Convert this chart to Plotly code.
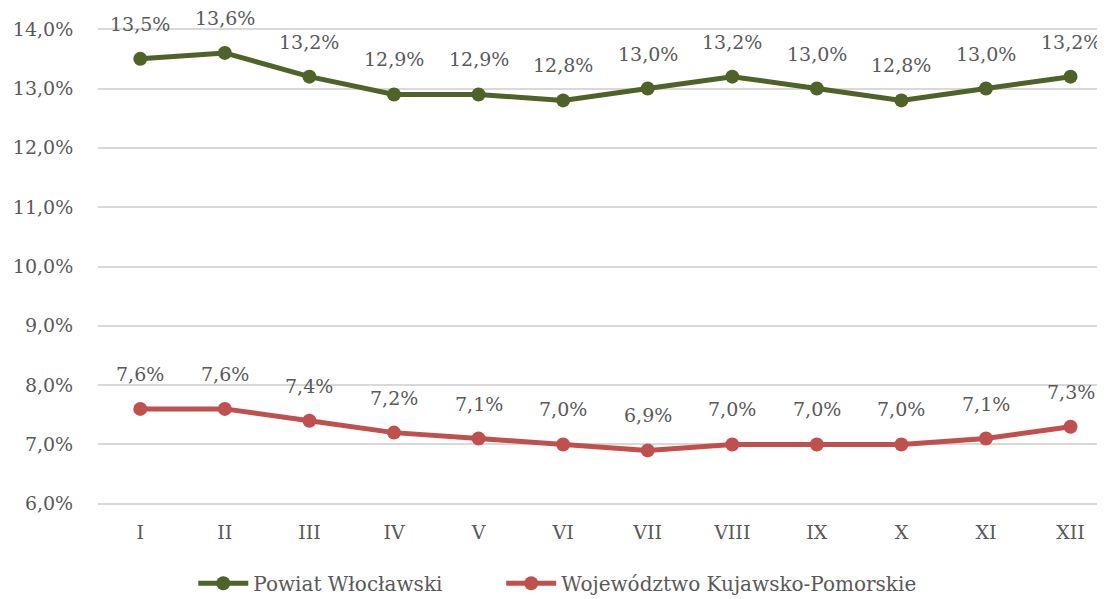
import plotly.graph_objects as go

months = ["I", "II", "III", "IV", "V", "VI", "VII", "VIII", "IX", "X", "XI", "XII"]
powiat = [13.5, 13.6, 13.2, 12.9, 12.9, 12.8, 13.0, 13.2, 13.0, 12.8, 13.0, 13.2]
wojewodztwo = [7.6, 7.6, 7.4, 7.2, 7.1, 7.0, 6.9, 7.0, 7.0, 7.0, 7.1, 7.3]

green = "#4f6228"
red = "#c0504d"
txt = "#595959"
font_family = "Georgia, 'DejaVu Serif', serif"

fig = go.Figure()
fig.add_trace(go.Scatter(x=months, y=powiat, name="Powiat Włocławski",
                         mode="lines+markers", legend="legend",
                         line=dict(color=green, width=5),
                         marker=dict(color=green, size=14)))
fig.add_trace(go.Scatter(x=months, y=wojewodztwo, name="Województwo Kujawsko-Pomorskie",
                         mode="lines+markers", legend="legend2",
                         line=dict(color=red, width=5),
                         marker=dict(color=red, size=14)))

# data labels above the points
annotations = []
for series in (powiat, wojewodztwo):
    for m, v in zip(months, series):
        annotations.append(dict(x=m, y=v, text=f"{v:.1f}%".replace(".", ","),
                                showarrow=False, yshift=35,
                                font=dict(size=19, color=txt, family=font_family)))

leg = dict(orientation="h", xanchor="left", y=-0.164, yanchor="middle",
           font=dict(size=20, color=txt), itemwidth=50)

# page body has an 8px margin, so the figure is a bit smaller than the window
fig.update_layout(
    width=1097, height=591,
    margin=dict(l=90, r=4, t=20, b=94, autoexpand=False),
    plot_bgcolor="white", paper_bgcolor="white",
    separators=", ",
    font=dict(family=font_family, size=19, color=txt),
    annotations=annotations,
    showlegend=True,
    legend=dict(leg, x=0.095),
    legend2=dict(leg, x=0.402),
    xaxis=dict(type="category", range=[-0.5, 11.36], showgrid=False,
               ticks="outside", ticklen=10, tickcolor="rgba(0,0,0,0)",
               tickfont=dict(size=19, color=txt)),
    yaxis=dict(range=[5.98, 14.02], dtick=1, tickformat=".1f", ticksuffix="%",
               showgrid=True, gridcolor="#d9d9d9", gridwidth=2, zeroline=False,
               ticks="outside", ticklen=20, tickcolor="rgba(0,0,0,0)",
               tickfont=dict(size=19, color=txt)),
)

fig.write_html("out.html")
